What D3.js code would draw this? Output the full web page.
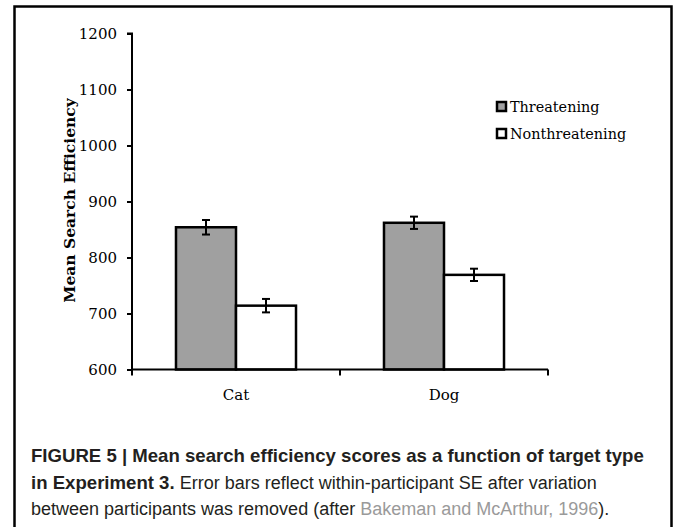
<!DOCTYPE html>
<html>
<head>
<meta charset="utf-8">
<script src="https://cdnjs.cloudflare.com/ajax/libs/d3/7.8.5/d3.min.js"></script>
<style>
  body { margin: 0; background: #fff; }
  svg { display: block; }
</style>
</head>
<body>
<div id="chart"></div>
<script>
var w = 673,
    h = 527;

var categories = ["Cat", "Dog"];
var series = ["Threatening", "Nonthreatening"];
var means = [[854, 714], [862, 769]];
var errors = [[13, 12], [11, 11]];
var yTicks = [600, 700, 800, 900, 1000, 1100, 1200];
var fills = ["#a0a0a0", "#ffffff"];

var serif = "'DejaVu Serif', serif",
    sans = "'Liberation Sans', Arial, sans-serif";

var svg = d3.select("#chart").append("svg")
    .attr("width", w)
    .attr("height", h);

// outer frame (bottom edge runs off the page)
svg.append("rect")
    .attr("x", 14.5).attr("y", 6.5)
    .attr("width", 657).attr("height", 600)
    .attr("fill", "none")
    .attr("stroke", "#000")
    .attr("stroke-width", 2.5);

var y = d3.scaleLinear().domain([600, 1200]).range([369.5, 33.5]);

var x0 = d3.scaleBand().domain(categories).range([132, 548]);

var x1 = d3.scaleBand().domain(series)
    .range([0, x0.bandwidth()])
    .paddingInner(0).paddingOuter(0.733);

// y axis
var yAxis = svg.append("g")
    .attr("transform", "translate(132,0)")
    .call(d3.axisLeft(y).tickValues(yTicks).tickSize(5).tickPadding(10).tickFormat(d3.format("d")));
yAxis.select(".domain").attr("stroke-width", 2).attr("d", "M-5," + y(1200) + "H0V" + y(600));
yAxis.selectAll(".tick line").attr("stroke-width", 2);
yAxis.selectAll(".tick text")
    .attr("font-family", serif).attr("font-size", 15).attr("fill", "#000");

// bars
var g = svg.selectAll("g.cat")
    .data(categories)
  .enter().append("g")
    .attr("class", "cat")
    .attr("transform", function(d) { return "translate(" + x0(d) + ",0)"; });

g.selectAll("rect")
    .data(function(d, i) { return series.map(function(s, j) { return {s: s, v: means[i][j], e: errors[i][j], j: j}; }); })
  .enter().append("rect")
    .attr("x", function(d) { return x1(d.s); })
    .attr("y", function(d) { return y(d.v); })
    .attr("width", x1.bandwidth())
    .attr("height", function(d) { return y(600) - y(d.v); })
    .attr("fill", function(d) { return fills[d.j]; })
    .attr("stroke", "#000")
    .attr("stroke-width", 2.5);

// error bars
var eb = g.selectAll("g.err")
    .data(function(d, i) { return series.map(function(s, j) { return {s: s, v: means[i][j], e: errors[i][j]}; }); })
  .enter().append("g")
    .attr("class", "err")
    .attr("stroke", "#000")
    .attr("stroke-width", 2);
eb.append("line")
    .attr("x1", function(d) { return x1(d.s) + x1.bandwidth() / 2; })
    .attr("x2", function(d) { return x1(d.s) + x1.bandwidth() / 2; })
    .attr("y1", function(d) { return y(d.v + d.e); })
    .attr("y2", function(d) { return y(d.v - d.e); });
[1, -1].forEach(function(sign) {
  eb.append("line")
      .attr("x1", function(d) { return x1(d.s) + x1.bandwidth() / 2 - 4; })
      .attr("x2", function(d) { return x1(d.s) + x1.bandwidth() / 2 + 4; })
      .attr("y1", function(d) { return y(d.v + sign * d.e); })
      .attr("y2", function(d) { return y(d.v + sign * d.e); });
});

// x axis
var xAxis = svg.append("g")
    .attr("transform", "translate(0," + y(600) + ")");
xAxis.append("line")
    .attr("x1", 132).attr("x2", 548)
    .attr("stroke", "#000").attr("stroke-width", 2);
xAxis.selectAll("line.tick")
    .data(categories.concat([null]))
  .enter().append("line")
    .attr("class", "tick")
    .attr("x1", function(d) { return d ? x0(d) : x0.range()[1]; })
    .attr("x2", function(d) { return d ? x0(d) : x0.range()[1]; })
    .attr("y1", 0).attr("y2", 6)
    .attr("stroke", "#000").attr("stroke-width", 2);
xAxis.selectAll("text")
    .data(categories)
  .enter().append("text")
    .attr("x", function(d) { return x0(d) + x0.bandwidth() / 2; })
    .attr("y", 30)
    .attr("text-anchor", "middle")
    .attr("font-family", serif).attr("font-size", 15)
    .text(function(d) { return d; });

// y title
svg.append("text")
    .attr("transform", "translate(75," + (y(900) - 1) + ")rotate(-90)")
    .attr("text-anchor", "middle")
    .attr("font-family", serif).attr("font-size", 15.5).attr("font-weight", "bold")
    .text("Mean Search Efficiency");

// legend
var leg = svg.selectAll("g.leg")
    .data(series)
  .enter().append("g")
    .attr("class", "leg")
    .attr("transform", function(d, i) { return "translate(496," + (101 + i * 27) + ")"; });
leg.append("rect")
    .attr("x", 1).attr("y", 1)
    .attr("width", 9).attr("height", 9)
    .attr("fill", function(d, i) { return fills[i]; })
    .attr("stroke", "#000").attr("stroke-width", 2.5);
leg.append("text")
    .attr("x", 14).attr("y", 11)
    .attr("font-family", serif).attr("font-size", 14.4)
    .text(function(d) { return d; });

// caption
var captionLines = [
  [{t: "FIGURE 5 | Mean search efficiency scores as a function of target type", b: true}],
  [{t: "in Experiment 3.", b: true}, {t: " Error bars reflect within-participant SE after variation"}],
  [{t: "between participants was removed (after "}, {t: "Bakeman and McArthur, 1996", c: "#9a9a9a"}, {t: ")."}]
];
var cap = svg.append("g")
    .attr("font-family", sans).attr("fill", "#231f20");
captionLines.forEach(function(line, i) {
  var t = cap.append("text")
      .attr("x", 31).attr("y", 462 + i * 26.5);
  line.forEach(function(p) {
    t.append("tspan")
        .attr("font-weight", p.b ? "bold" : "normal")
        .attr("font-size", p.b ? 18.6 : 18)
        .attr("fill", p.c || null)
        .text(p.t);
  });
});
</script>
</body>
</html>
